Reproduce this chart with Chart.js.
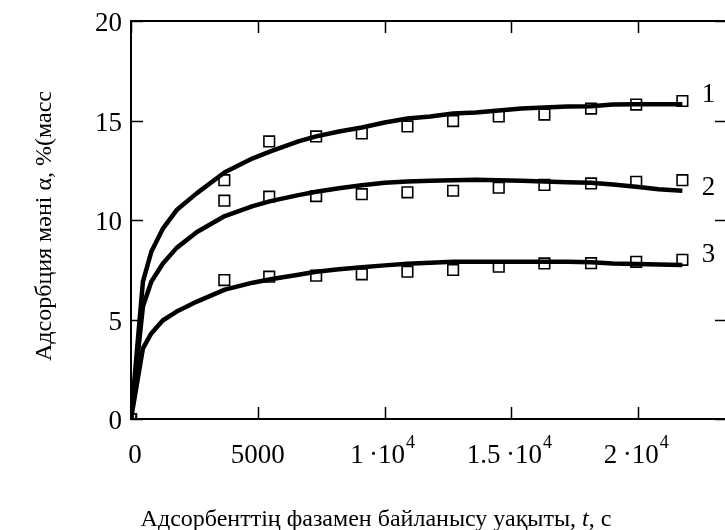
<!DOCTYPE html>
<html>
<head>
<meta charset="utf-8">
<script src="https://cdn.jsdelivr.net/npm/chart.js@4/dist/chart.umd.min.js"></script>
<style>
  html, body { margin: 0; padding: 0; background: #fff; overflow: hidden; }
</style>
</head>
<body>
<canvas id="adsorption-chart" width="730" height="530"></canvas>
<script>
// time points of the fitted curves (s)
const curveTimes = [0, 470, 800, 1250, 1800, 2600, 3700, 4800, 5500, 6600, 7300, 8200, 9100, 10000,
  10900, 11800, 12700, 13600, 14500, 15400, 16300, 17200, 18140, 19000, 19920, 20800, 21740];
const curve1 = [0, 6.9, 8.4, 9.55, 10.5, 11.35, 12.4, 13.1, 13.45, 13.95, 14.2, 14.45, 14.65, 14.9,
  15.1, 15.2, 15.35, 15.4, 15.5, 15.6, 15.65, 15.7, 15.72, 15.8, 15.82, 15.82, 15.82];
const curve2 = [0, 5.65, 6.9, 7.8, 8.6, 9.4, 10.2, 10.7, 10.95, 11.25, 11.42, 11.6, 11.75, 11.87,
  11.93, 11.97, 12.0, 12.02, 12.0, 11.97, 11.93, 11.9, 11.87, 11.78, 11.67, 11.55, 11.47];
const curve3 = [0, 3.55, 4.3, 4.95, 5.4, 5.9, 6.5, 6.85, 7.02, 7.25, 7.4, 7.52, 7.63, 7.72,
  7.8, 7.85, 7.9, 7.9, 7.9, 7.9, 7.9, 7.9, 7.88, 7.82, 7.79, 7.76, 7.74];

// measured points (squares)
const pointTimes = [0, 3680, 5450, 7300, 9100, 10900, 12700, 14500, 16300, 18140, 19920, 21740];
const measured1 = [0, 12.0, 13.95, 14.2, 14.35, 14.7, 14.97, 15.2, 15.3, 15.6, 15.8, 15.98];
const measured2 = [0, 10.97, 11.17, 11.2, 11.3, 11.39, 11.47, 11.62, 11.76, 11.84, 11.92, 12.0];
const measured3 = [0, 6.98, 7.15, 7.2, 7.27, 7.4, 7.49, 7.65, 7.82, 7.83, 7.9, 8.0];

// axis ticks and labels
const xTicks = [0, 5000, 10000, 15000, 20000];
const xTickBase = ['0', '5000', '1\u2009\u00b710', '1.5\u2009\u00b710', '2\u2009\u00b710'];
const xTickExp = ['', '', '4', '4', '4'];
const yTicks = [0, 5, 10, 15, 20];

// curve numbers, placed in data units
const curveLabels = ['1', '2', '3'];
const curveLabelX = [22770, 22770, 22770];
const curveLabelY = [16.3, 11.6, 8.25];

const xTitle = ['Адсорбенттің фазамен байланысу уақыты, ', 't', ', с'];
const yTitle = 'Адсорбция мәні α, %(масс';

const pairs = (xs, ys) => xs.map((x, i) => ({ x: x, y: ys[i] }));

const serif = '"Liberation Serif", "Times New Roman", serif';

// frame, inward ticks and all the text
const frameAndText = {
  id: 'frameAndText',
  afterDraw(chart) {
    const ctx = chart.ctx;
    const a = chart.chartArea;
    const xs = chart.scales.x, ys = chart.scales.y;
    ctx.save();
    ctx.strokeStyle = '#000';
    ctx.fillStyle = '#000';

    ctx.lineWidth = 2;
    ctx.strokeRect(a.left, a.top, a.right - a.left, a.bottom - a.top);

    ctx.lineWidth = 1.5;
    const len = 12;
    ctx.beginPath();
    xTicks.forEach(v => {
      const px = Math.round(xs.getPixelForValue(v)) + 0.5;
      ctx.moveTo(px, a.bottom); ctx.lineTo(px, a.bottom - len);
      ctx.moveTo(px, a.top); ctx.lineTo(px, a.top + len);
    });
    yTicks.forEach(v => {
      const py = Math.round(ys.getPixelForValue(v)) + 0.5;
      ctx.moveTo(a.left, py); ctx.lineTo(a.left + len, py);
      ctx.moveTo(a.right, py); ctx.lineTo(a.right - len, py);
    });
    ctx.stroke();

    // y tick labels
    ctx.font = '27px ' + serif;
    ctx.textAlign = 'right';
    ctx.textBaseline = 'alphabetic';
    yTicks.forEach(v => {
      ctx.fillText(String(v), a.left - 9, ys.getPixelForValue(v) + 10);
    });

    // x tick labels with superscript exponent
    ctx.textAlign = 'left';
    xTicks.forEach((v, i) => {
      ctx.font = '27px ' + serif;
      const wb = ctx.measureText(xTickBase[i]).width;
      ctx.font = '18px ' + serif;
      const we = xTickExp[i] ? ctx.measureText(xTickExp[i]).width + 1 : 0;
      let x0 = xs.getPixelForValue(v) - (wb + we) / 2 - (i > 1 ? 2 : 0);
      if (i === 0) x0 += 4;
      ctx.font = '27px ' + serif;
      ctx.fillText(xTickBase[i], x0, 463);
      if (xTickExp[i]) {
        ctx.font = '18px ' + serif;
        ctx.fillText(xTickExp[i], x0 + wb + 1, 448);
      }
    });

    // curve numbers
    ctx.font = '27px ' + serif;
    ctx.textAlign = 'center';
    ctx.textBaseline = 'middle';
    curveLabels.forEach((t, i) => {
      ctx.fillText(t, xs.getPixelForValue(curveLabelX[i]), ys.getPixelForValue(curveLabelY[i]));
    });

    // x axis title (t in italics)
    ctx.textBaseline = 'alphabetic';
    ctx.textAlign = 'left';
    const fonts = ['24px ' + serif, 'italic 24px ' + serif, '24px ' + serif];
    const widths = xTitle.map((s, i) => { ctx.font = fonts[i]; return ctx.measureText(s).width; });
    let tx = 376 - widths.reduce((p, c) => p + c, 0) / 2;
    xTitle.forEach((s, i) => {
      ctx.font = fonts[i];
      ctx.fillText(s, tx, 526);
      tx += widths[i];
    });

    // y axis title
    ctx.translate(51, 226);
    ctx.rotate(-Math.PI / 2);
    ctx.font = '24px ' + serif;
    ctx.textAlign = 'center';
    ctx.fillText(yTitle, 0, 0);
    ctx.restore();
  }
};

const markerStyle = {
  showLine: false,
  pointStyle: 'rect',
  pointRadius: 7.5,
  pointBorderWidth: 1.6,
  pointBorderColor: '#000',
  pointBackgroundColor: 'rgba(255,255,255,0)'
};
const curveStyle = {
  showLine: true,
  borderColor: '#000',
  borderWidth: 4.5,
  borderJoinStyle: 'round',
  pointRadius: 0,
  tension: 0,
  fill: false
};

new Chart(document.getElementById('adsorption-chart'), {
  type: 'scatter',
  data: {
    datasets: [
      Object.assign({ label: 'Тәжірибе 1', data: pairs(pointTimes, measured1) }, markerStyle),
      Object.assign({ label: 'Тәжірибе 2', data: pairs(pointTimes, measured2) }, markerStyle),
      Object.assign({ label: 'Тәжірибе 3', data: pairs(pointTimes, measured3) }, markerStyle),
      Object.assign({ label: '1', data: pairs(curveTimes, curve1) }, curveStyle),
      Object.assign({ label: '2', data: pairs(curveTimes, curve2) }, curveStyle),
      Object.assign({ label: '3', data: pairs(curveTimes, curve3) }, curveStyle)
    ]
  },
  options: {
    responsive: false,
    animation: false,
    events: [],
    layout: { autoPadding: false, padding: { left: 131, top: 21, right: 3, bottom: 111 } },
    plugins: { legend: { display: false }, tooltip: { enabled: false } },
    scales: {
      x: {
        type: 'linear', min: 0, max: 23500,
        ticks: { display: false },
        grid: { display: false, drawTicks: false },
        border: { display: false }
      },
      y: {
        type: 'linear', min: 0, max: 20,
        ticks: { display: false },
        grid: { display: false, drawTicks: false },
        border: { display: false }
      }
    }
  },
  plugins: [frameAndText]
});
</script>
</body>
</html>
